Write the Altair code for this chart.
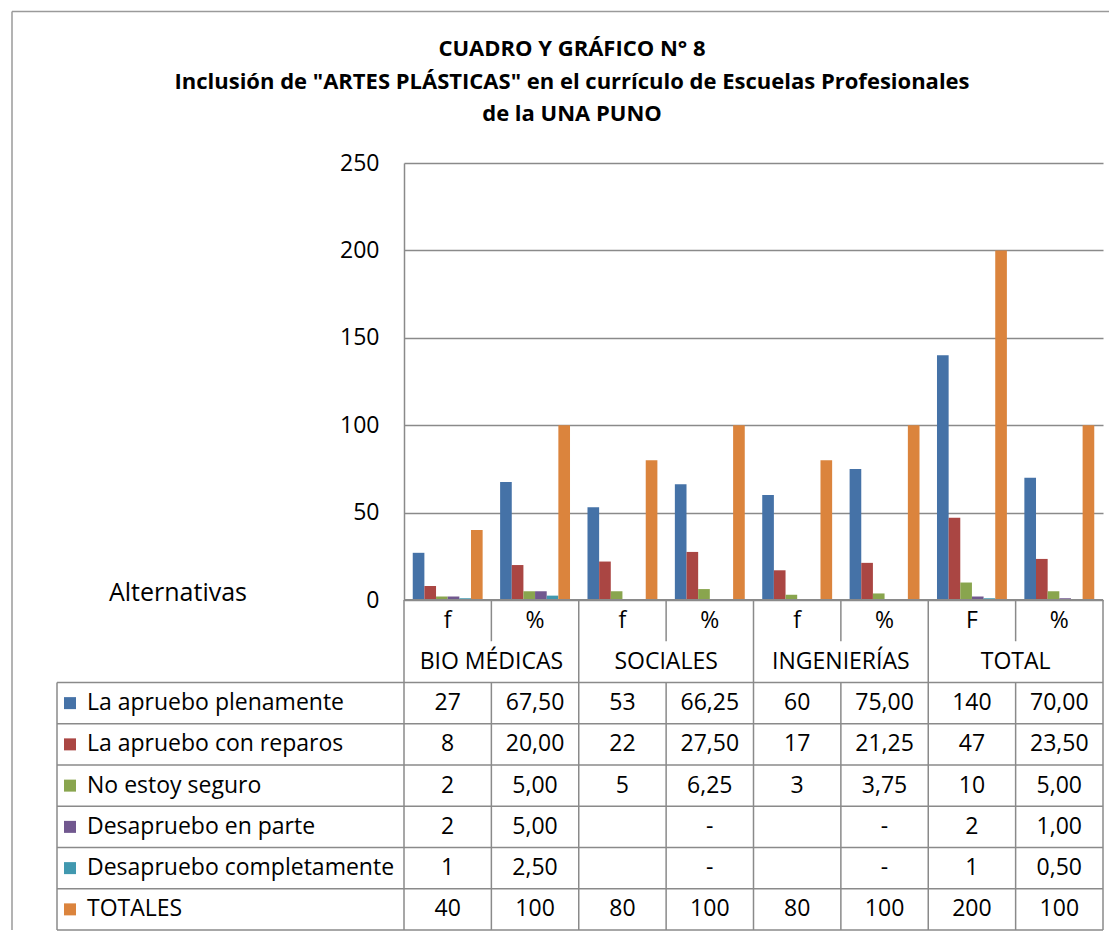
import altair as alt
import pandas as pd

FONT = "Open Sans"
LINE = "#8a8a8a"

title_lines = [
    "CUADRO Y GRÁFICO N° 8",
    'Inclusión de "ARTES PLÁSTICAS" en el currículo de Escuelas Profesionales',
    "de la UNA PUNO",
]
x_title = "Alternativas"
groups = ["BIO MÉDICAS", "SOCIALES", "INGENIERÍAS", "TOTAL"]
sub_labels = ["f", "%", "f", "%", "f", "%", "F", "%"]
series = [
    "La apruebo plenamente",
    "La apruebo con reparos",
    "No estoy seguro",
    "Desapruebo en parte",
    "Desapruebo completamente",
    "TOTALES",
]
colors = ["#4572A7", "#AA4643", "#89A54E", "#71588F", "#4198AF", "#DB843D"]

v_plenamente = [27, 67.5, 53, 66.25, 60, 75, 140, 70]
v_reparos = [8, 20, 22, 27.5, 17, 21.25, 47, 23.5]
v_no_seguro = [2, 5, 5, 6.25, 3, 3.75, 10, 5]
v_en_parte = [2, 5, None, None, None, None, 2, 1]
v_completamente = [1, 2.5, None, None, None, None, 1, 0.5]
v_totales = [40, 100, 80, 100, 80, 100, 200, 100]

t_plenamente = ["27", "67,50", "53", "66,25", "60", "75,00", "140", "70,00"]
t_reparos = ["8", "20,00", "22", "27,50", "17", "21,25", "47", "23,50"]
t_no_seguro = ["2", "5,00", "5", "6,25", "3", "3,75", "10", "5,00"]
t_en_parte = ["2", "5,00", "", "-", "", "-", "2", "1,00"]
t_completamente = ["1", "2,50", "", "-", "", "-", "1", "0,50"]
t_totales = ["40", "100", "80", "100", "80", "100", "200", "100"]

y_ticks = [0, 50, 100, 150, 200, 250]

all_values = [v_plenamente, v_reparos, v_no_seguro, v_en_parte, v_completamente, v_totales]
all_texts = [t_plenamente, t_reparos, t_no_seguro, t_en_parte, t_completamente, t_totales]

col_keys = [f"{groups[i // 2]} {sub_labels[i]}" for i in range(8)]

bar_rows, cell_rows = [], []
for si, s in enumerate(series):
    for ci in range(8):
        v = all_values[si][ci]
        if v is not None:
            bar_rows.append({"col": col_keys[ci], "series": s, "value": v})
        cell_rows.append({"ci": ci, "ri": si, "label": all_texts[si][ci]})
bars_df = pd.DataFrame(bar_rows)
cells_df = pd.DataFrame(cell_rows)
rowlab_df = pd.DataFrame({"ri": list(range(len(series))), "series": series})
header_df = pd.DataFrame({"ci": list(range(8)), "label": sub_labels})
group_df = pd.DataFrame({"gi": list(range(4)), "label": groups})

# table structure (column boundaries / row boundaries in cell units)
vl = []
for b in range(9):
    if b % 2 == 0:
        vl.append({"xb": b, "y0": 0, "y1": 8})
    else:
        vl.append({"xb": b, "y0": 0, "y1": 1})
        vl.append({"xb": b, "y0": 2, "y1": 8})
vlines_df = pd.DataFrame(vl)
hlines_df = pd.DataFrame({"r": list(range(2, 9))})
axisline_df = pd.DataFrame({"r": [0]})
labedge_df = pd.DataFrame({"y0": [2], "y1": [8]})
one = pd.DataFrame({"k": [0]})

W, H = 699, 437
ROW = 41.25
TX = alt.Scale(domain=[0, 8], range=[0, W])
TY = alt.Scale(domain=[0, 8], range=[H, H + 8 * ROW])
LAB_X = -347
FS = 23

bars = alt.Chart(bars_df).mark_bar().encode(
    x=alt.X("col:N", sort=col_keys,
            scale=alt.Scale(paddingInner=0.2, paddingOuter=0.1), axis=None),
    xOffset=alt.XOffset("series:N", sort=series,
                        scale=alt.Scale(paddingInner=0, paddingOuter=0)),
    y=alt.Y("value:Q", scale=alt.Scale(domain=[0, 250]),
            axis=alt.Axis(values=y_ticks, title=None, grid=True, ticks=False,
                          labelPadding=25, labelFontSize=23, labelFont=FONT,
                          labelColor="black", domainColor=LINE, domainWidth=1.5,
                          gridColor=LINE, gridWidth=1.5)),
    color=alt.Color("series:N", sort=series,
                    scale=alt.Scale(domain=series, range=colors), legend=None),
)

vlines = alt.Chart(vlines_df).mark_rule(color=LINE, strokeWidth=1.5).encode(
    x=alt.X("xb:Q", scale=TX, axis=None),
    y=alt.Y("y0:Q", scale=TY, axis=None),
    y2="y1:Q",
)
hlines = alt.Chart(hlines_df).mark_rule(color=LINE, strokeWidth=1.5).encode(
    y=alt.Y("r:Q", scale=TY, axis=None),
    x=alt.value(LAB_X), x2=alt.value(W),
)
axisline = alt.Chart(axisline_df).mark_rule(color=LINE, strokeWidth=2).encode(
    y=alt.Y("r:Q", scale=TY, axis=None),
    x=alt.value(0), x2=alt.value(W),
)
labedge = alt.Chart(labedge_df).mark_rule(color=LINE, strokeWidth=1.5).encode(
    y=alt.Y("y0:Q", scale=TY, axis=None), y2="y1:Q",
    x=alt.value(LAB_X),
)

header = alt.Chart(header_df).transform_calculate(
    xc="datum.ci + 0.5", yc="0.5"
).mark_text(fontSize=FS, color="black").encode(
    x=alt.X("xc:Q", scale=TX, axis=None),
    y=alt.Y("yc:Q", scale=TY, axis=None),
    text="label:N",
)
grouplab = alt.Chart(group_df).transform_calculate(
    xc="datum.gi * 2 + 1", yc="1.5"
).mark_text(fontSize=FS, color="black").encode(
    x=alt.X("xc:Q", scale=TX, axis=None),
    y=alt.Y("yc:Q", scale=TY, axis=None),
    text="label:N",
)
cells = alt.Chart(cells_df).transform_calculate(
    xc="datum.ci + 0.5", yc="datum.ri + 2.5"
).mark_text(fontSize=FS, color="black").encode(
    x=alt.X("xc:Q", scale=TX, axis=None),
    y=alt.Y("yc:Q", scale=TY, axis=None),
    text="label:N",
)
rowlabels = alt.Chart(rowlab_df).transform_calculate(
    yc="datum.ri + 2.5"
).mark_text(fontSize=FS, color="black", align="left").encode(
    x=alt.value(-317),
    y=alt.Y("yc:Q", scale=TY, axis=None),
    text="series:N",
)
swatches = alt.Chart(rowlab_df).transform_calculate(
    yc="datum.ri + 2.5"
).mark_square(size=144, opacity=1).encode(
    x=alt.value(-334),
    y=alt.Y("yc:Q", scale=TY, axis=None),
    color=alt.Color("series:N", sort=series,
                    scale=alt.Scale(domain=series, range=colors), legend=None),
)

title = alt.Chart(one).mark_text(
    text=title_lines, fontSize=22, fontWeight="bold", lineHeight=32.5,
    baseline="alphabetic", align="center", color="black",
).encode(x=alt.value(168), y=alt.value(-107))

xtitle = alt.Chart(one).mark_text(
    text=x_title, fontSize=25, align="left", color="black",
).encode(x=alt.value(-295), y=alt.value(430))

border_left = alt.Chart(one).mark_rule(color="#9a9a9a", strokeWidth=1.5).encode(
    x=alt.value(-392), y=alt.value(-151.5), y2=alt.value(H + 8 * ROW),
)
border_top = alt.Chart(one).mark_rule(color="#9a9a9a", strokeWidth=1.5).encode(
    x=alt.value(-392), x2=alt.value(705), y=alt.value(-151.5),
)

chart = alt.layer(
    bars, vlines, hlines, axisline, labedge, header, grouplab, cells,
    rowlabels, swatches, title, xtitle, border_left, border_top,
).resolve_scale(
    x="independent", y="independent"
).properties(
    width=W, height=H,
    padding={"left": 3, "top": 2, "right": 0, "bottom": 0},
).configure(font=FONT).configure_view(stroke=None)

chart.save("out.html", embed_options={"renderer": "svg", "actions": False})
